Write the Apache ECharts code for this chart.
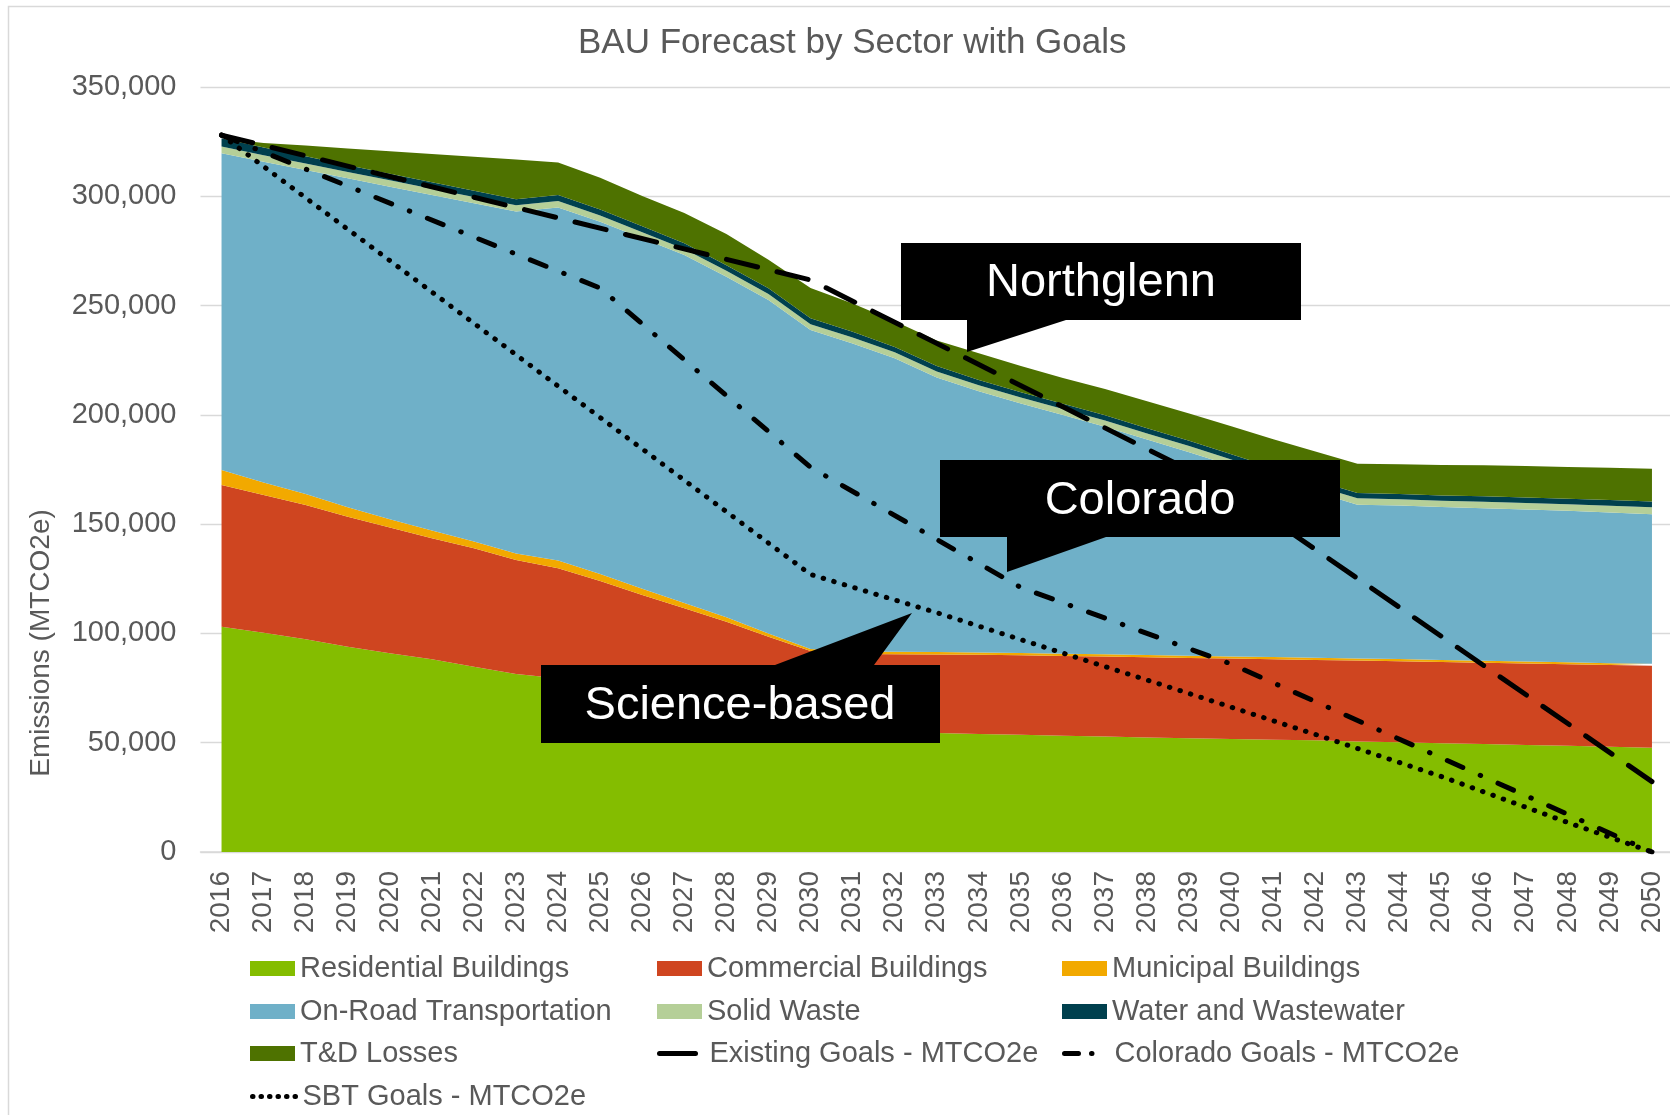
<!DOCTYPE html>
<html>
<head>
<meta charset="utf-8">
<title>BAU Forecast by Sector with Goals</title>
<script src="https://cdn.jsdelivr.net/npm/echarts@6/dist/echarts.min.js"></script>
<style>
    html, body { margin: 0; padding: 0; background: #fff; }
    #myChart { width: 1670px; height: 1115px; }
</style>
</head>
<body>
<div id="myChart"></div>
<script>
// categories
var years = ['2016', '2017', '2018', '2019', '2020', '2021', '2022', '2023', '2024', '2025',
    '2026', '2027', '2028', '2029', '2030', '2031', '2032', '2033', '2034', '2035',
    '2036', '2037', '2038', '2039', '2040', '2041', '2042', '2043', '2044', '2045',
    '2046', '2047', '2048', '2049', '2050'];

// BAU sectors, MTCO2e (stacked, bottom to top)
var residential = [103000, 100300, 97300, 93900, 90900, 88200, 84800, 81400, 79500, 76500,
    73000, 69500, 66000, 62500, 58500, 56500, 55200, 54400, 54000, 53600,
    53200, 52800, 52400, 52000, 51700, 51400, 51100, 50600, 50200, 49800,
    49400, 49000, 48600, 48200, 47700];
var commercial = [64900, 63000, 61500, 59500, 57600, 55300, 54200, 52200, 50300, 47500,
    44600, 42000, 39400, 36000, 33500, 34100, 35300, 36000, 36200, 36400,
    36500, 36600, 36700, 36800, 36800, 36800, 36800, 37000, 37100, 37100,
    37200, 37200, 37300, 37300, 37500];
var municipal = [6900, 5800, 5000, 4300, 3700, 3600, 3100, 3000, 3600, 3200,
    2800, 2400, 2000, 1500, 900, 1100, 1100, 1100, 1100, 1050,
    1050, 1050, 1000, 1000, 1000, 1000, 1000, 950, 950, 950,
    950, 900, 900, 900, 900];
var onRoad = [144900, 146700, 148200, 150500, 152200, 153500, 154700, 156400, 161500, 161200,
    160400, 159200, 155800, 152600, 145900, 141000, 134300, 125600, 119500, 114150,
    109150, 104150, 98600, 93100, 87300, 81400, 75800, 70350, 70250, 69950,
    69750, 69600, 69300, 68900, 68400];
var solidWaste = [3100, 3000, 3000, 2900, 2900, 2900, 2900, 2900, 2900, 2800,
    2800, 2800, 2700, 2700, 2700, 2700, 2700, 2700, 2700, 2700,
    2800, 2800, 2800, 2800, 2800, 2800, 2900, 2900, 2900, 2900,
    3000, 3000, 3000, 3100, 3200];
var water = [3800, 3500, 3300, 3100, 3000, 2900, 2800, 2800, 2800, 2700,
    2700, 2600, 2600, 2600, 2700, 2600, 2500, 2500, 2400, 2400,
    2400, 2400, 2400, 2400, 2400, 2400, 2400, 2400, 2400, 2400,
    2500, 2500, 2500, 2600, 2700];
var tdLosses = [0, 2100, 4900, 7700, 10300, 12900, 15600, 18100, 14900, 14600,
    13800, 13800, 14200, 13100, 13800, 13000, 11700, 11700, 12300, 12000,
    11800, 12000, 12300, 12500, 12800, 13000, 13200, 13400, 13600, 14000,
    14200, 14400, 14600, 14800, 14900];

// goal lines (target years only, joined straight)
var existingGoals = [328000, null, null, null, null, null, null, null, null, null,
    null, null, null, null, 261700, null, null, null, null, null,
    null, null, null, null, 165000, null, null, null, null, null,
    null, null, null, null, 32200];
var coloradoGoals = [328000, null, null, null, null, null, null, null, null, 258000,
    null, null, null, null, 176000, null, null, null, null, 121000,
    null, null, null, null, 86000, null, null, null, null, null,
    null, null, null, null, 0];
var sbtGoals = [328000, null, null, null, null, null, null, null, null, null,
    null, null, null, null, 127000, null, null, 109500, null, null,
    91000, null, null, 72500, null, null, 53800, null, null, 34500,
    null, null, 13500, null, 0];

var FONT = '"Liberation Sans", Arial, sans-serif';
var GREY = '#595959';

function areaSeries(name, data, color) {
    return {
        name: name,
        type: 'line',
        stack: 'bau',
        data: data,
        symbol: 'none',
        lineStyle: { width: 0 },
        itemStyle: { color: color },
        areaStyle: { color: color, opacity: 1 },
        emphasis: { disabled: true },
        z: 2
    };
}

function goalSeries(name, data, dash) {
    return {
        name: name,
        type: 'line',
        data: data,
        connectNulls: true,
        symbol: 'none',
        itemStyle: { color: '#000' },
        lineStyle: { color: '#000', width: 5, type: dash, cap: 'round' },
        emphasis: { disabled: true },
        z: 5
    };
}

// one legend block per entry so the three columns line up
function legendItem(name, left, top, dash) {
    var lg = {
        data: [name],
        left: left,
        top: top,
        padding: 0,
        itemWidth: 45,
        itemHeight: 15,
        selectedMode: false,
        textStyle: { fontSize: 29, color: GREY, fontFamily: FONT }
    };
    if (!dash) {
        lg.icon = 'rect';
    } else {
        lg.itemStyle = { opacity: 0 };   // line only, no marker
        lg.lineStyle = { color: '#000', width: 5, type: dash, cap: 'round' };
    }
    return lg;
}

var col = [250, 657, 1062];
var row = [954, 997, 1039, 1082];

var myChart = echarts.init(document.getElementById('myChart'));
var option = {
    animation: false,
    backgroundColor: '#fff',
    textStyle: { fontFamily: FONT },
    title: {
        text: 'BAU Forecast by Sector with Goals',
        left: 578,
        top: 26,
        padding: 0,
        textStyle: { fontSize: 35, fontWeight: 'normal', color: GREY, fontFamily: FONT }
    },
    legend: [
        legendItem('Residential Buildings', col[0], row[0]),
        legendItem('Commercial Buildings', col[1], row[0]),
        legendItem('Municipal Buildings', col[2], row[0]),
        legendItem('On-Road Transportation', col[0], row[1]),
        legendItem('Solid Waste', col[1], row[1]),
        legendItem('Water and Wastewater', col[2], row[1]),
        legendItem('T&D Losses', col[0], row[2]),
        legendItem('Existing Goals - MTCO2e', col[1], row[2], [36, 30]),
        legendItem('Colorado Goals - MTCO2e', col[2], row[2], [14, 13, 0.5, 30]),
        legendItem('SBT Goals - MTCO2e', col[0], row[3], [0.5, 8])
    ],
    grid: {
        left: 200.5,
        top: 87,
        width: 1472.5,
        height: 765,
        containLabel: false,
        outerBoundsMode: 'none'
    },
    xAxis: {
        type: 'category',
        data: years,
        boundaryGap: true,
        axisLine: { show: true, lineStyle: { color: '#d9d9d9', width: 1.5 } },
        axisTick: { show: false },
        axisLabel: {
            interval: 0,
            rotate: 90,
            margin: 19,
            fontSize: 28,
            color: GREY,
            fontFamily: FONT
        },
        splitLine: { show: false }
    },
    yAxis: {
        type: 'value',
        min: 0,
        max: 350000,
        interval: 50000,
        axisLine: { show: false },
        axisTick: { show: false },
        axisLabel: {
            margin: 24,
            fontSize: 29,
            color: GREY,
            fontFamily: FONT,
            formatter: function (v) {
                return String(v).replace(/\B(?=(\d{3})+(?!\d))/g, ',');
            }
        },
        splitLine: { show: true, lineStyle: { color: '#d9d9d9', width: 1.3 } }
    },
    series: [
        areaSeries('Residential Buildings', residential, '#84BD00'),
        areaSeries('Commercial Buildings', commercial, '#CF4520'),
        areaSeries('Municipal Buildings', municipal, '#F2A900'),
        areaSeries('On-Road Transportation', onRoad, '#6FB0C8'),
        areaSeries('Solid Waste', solidWaste, '#B5CF98'),
        areaSeries('Water and Wastewater', water, '#00404E'),
        areaSeries('T&D Losses', tdLosses, '#4E7200'),
        goalSeries('Existing Goals - MTCO2e', existingGoals, [32, 20]),
        goalSeries('Colorado Goals - MTCO2e', coloradoGoals, [17, 19, 0.5, 19]),
        goalSeries('SBT Goals - MTCO2e', sbtGoals, [0.5, 10.5])
    ],
    graphic: [
        {   // chart border
            type: 'rect', silent: true, z: 0,
            shape: { x: 8.5, y: 6.5, width: 1700, height: 1200 },
            style: { fill: 'none', stroke: '#d9d9d9', lineWidth: 1.5 }
        },
        {   // y axis title
            type: 'text', silent: true, x: 41, y: 643, rotation: Math.PI / 2, z: 10,
            style: {
                text: 'Emissions (MTCO2e)', fill: GREY, fontSize: 28, fontFamily: FONT,
                align: 'center', verticalAlign: 'middle',
                textAlign: 'center', textVerticalAlign: 'middle'
            }
        },
        // callouts
        {
            type: 'polygon', silent: true, z: 100,
            shape: { points: [[901, 243], [1301, 243], [1301, 320], [1066, 320], [967, 352], [967, 320], [901, 320]] },
            style: { fill: '#000' }
        },
        {
            type: 'text', silent: true, x: 1101, y: 283, z: 101,
            style: {
                text: 'Northglenn', fill: '#fff', fontSize: 47, fontFamily: FONT,
                align: 'center', verticalAlign: 'middle', textAlign: 'center', textVerticalAlign: 'middle'
            }
        },
        {
            type: 'polygon', silent: true, z: 100,
            shape: { points: [[940, 460], [1340, 460], [1340, 537], [1106, 537], [1007, 572], [1007, 537], [940, 537]] },
            style: { fill: '#000' }
        },
        {
            type: 'text', silent: true, x: 1140, y: 501, z: 101,
            style: {
                text: 'Colorado', fill: '#fff', fontSize: 47, fontFamily: FONT,
                align: 'center', verticalAlign: 'middle', textAlign: 'center', textVerticalAlign: 'middle'
            }
        },
        {
            type: 'polygon', silent: true, z: 100,
            shape: { points: [[541, 665], [775, 665], [912, 613], [874, 665], [940, 665], [940, 743], [541, 743]] },
            style: { fill: '#000' }
        },
        {
            type: 'text', silent: true, x: 740, y: 706, z: 101,
            style: {
                text: 'Science-based', fill: '#fff', fontSize: 47, fontFamily: FONT,
                align: 'center', verticalAlign: 'middle', textAlign: 'center', textVerticalAlign: 'middle'
            }
        }
    ]
};
myChart.setOption(option);
</script>
</body>
</html>
